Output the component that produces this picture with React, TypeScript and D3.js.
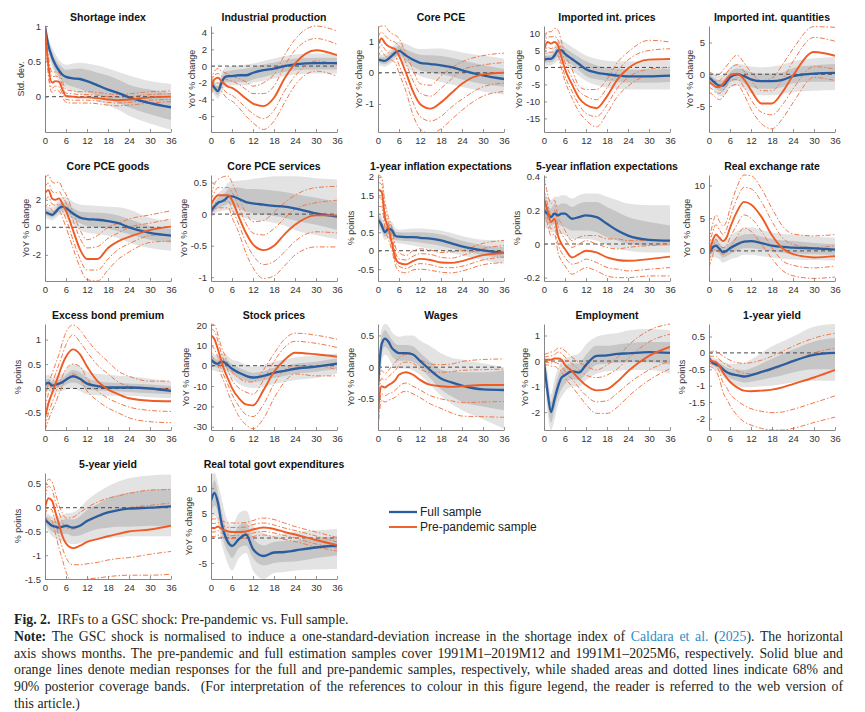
import { useEffect, useRef } from 'react';
import * as d3 from 'd3';

const horizons = [0, 1, 2, 3, 4, 5, 6, 8, 10, 12, 15, 18, 21, 24, 30, 36];
const xTicks = [0, 6, 12, 18, 24, 30, 36];

const titles = [
  'Shortage index', 'Industrial production', 'Core PCE', 'Imported int. prices', 'Imported int. quantities',
  'Core PCE goods', 'Core PCE services', '1-year inflation expectations', '5-year inflation expectations', 'Real exchange rate',
  'Excess bond premium', 'Stock prices', 'Wages', 'Employment', '1-year yield',
  '5-year yield', 'Real total govt expenditures',
];
const yc = 'YoY % change';
const pp = '% points';
const yLabels = [
  'Std. dev.', yc, yc, yc, yc,
  yc, yc, pp, pp, yc,
  pp, yc, yc, yc, pp,
  pp, yc,
];
const yDomains: [number, number][] = [
  [-0.5, 1], [-7.9, 4.8], [-1.9, 1.5], [-19, 12.2], [-9.1, 7.6],
  [-3.9, 3.8], [-1.06, 0.62], [-0.82, 2.05], [-0.22, 0.41], [-4.6, 11.6],
  [-0.85, 1.32], [-31.6, 20.5], [-0.99, 0.68], [-2.7, 1.45], [-2.35, 0.88],
  [-1.5, 0.73], [-8.2, 13],
];
const yTicks = [
  [0, 0.5, 1], [-6, -4, -2, 0, 2, 4], [-1, 0, 1], [-15, -10, -5, 0, 5, 10], [-5, 0, 5],
  [-2, 0, 2], [-1, -0.5, 0, 0.5], [-0.5, 0, 0.5, 1, 1.5, 2], [-0.2, 0, 0.2, 0.4], [0, 5, 10],
  [-0.5, 0, 0.5, 1], [-30, -20, -10, 0, 10, 20], [-0.5, 0, 0.5], [-2, -1, 0, 1], [-2, -1.5, -1, -0.5, 0, 0.5],
  [-1.5, -1, -0.5, 0, 0.5], [-5, 0, 5, 10],
];

// each sample: [median, lo68, hi68, lo90, hi90]
const shortageFull = [
  [1, 0.72, 0.56, 0.45, 0.37, 0.31, 0.28, 0.26, 0.25, 0.22, 0.16, 0.1, 0.05, -0.01, -0.09, -0.15],
  [1, 0.66, 0.48, 0.36, 0.28, 0.22, 0.18, 0.14, 0.11, 0.07, 0.02, -0.03, -0.09, -0.15, -0.25, -0.33],
  [1, 0.78, 0.64, 0.53, 0.46, 0.41, 0.38, 0.39, 0.4, 0.38, 0.34, 0.3, 0.24, 0.17, 0.1, 0.05],
  [1, 0.62, 0.42, 0.3, 0.21, 0.15, 0.12, 0.08, 0.04, 0, -0.06, -0.12, -0.19, -0.27, -0.38, -0.47],
  [1, 0.82, 0.7, 0.6, 0.52, 0.47, 0.45, 0.47, 0.48, 0.47, 0.44, 0.4, 0.35, 0.3, 0.22, 0.18],
];
const shortagePre = [
  [1, 0.42, 0.2, 0.22, 0.21, 0.1, 0.01, 0, -0.01, -0.01, -0.02, -0.04, -0.05, -0.04, -0.01, 0],
  [1, 0.35, 0.12, 0.15, 0.14, 0.04, -0.04, -0.05, -0.05, -0.05, -0.06, -0.08, -0.09, -0.08, -0.05, -0.04],
  [1, 0.5, 0.28, 0.29, 0.28, 0.16, 0.05, 0.04, 0.03, 0.03, 0.02, 0, -0.01, 0, 0.03, 0.04],
  [1, 0.28, 0.06, 0.09, 0.08, -0.01, -0.08, -0.09, -0.09, -0.09, -0.1, -0.12, -0.13, -0.12, -0.09, -0.07],
  [1, 0.56, 0.35, 0.35, 0.34, 0.22, 0.1, 0.08, 0.07, 0.07, 0.06, 0.04, 0.03, 0.04, 0.07, 0.08],
];
const ipFull = [
  [-2, -2.6, -3, -2, -1.3, -1.2, -1.2, -1.1, -1.1, -0.8, -0.5, -0.3, 0, 0.2, 0.35, 0.35],
  [-2.5, -3.1, -3.5, -2.7, -2, -1.9, -1.9, -1.9, -1.9, -1.6, -1.3, -1, -0.7, -0.5, -0.4, -0.4],
  [-1.5, -2.1, -2.5, -1.4, -0.7, -0.6, -0.5, -0.4, -0.3, -0.1, 0.2, 0.4, 0.7, 0.9, 1, 1],
  [-3, -3.5, -3.9, -3.1, -2.5, -2.4, -2.3, -2.3, -2.3, -2, -1.8, -1.5, -1.2, -1, -0.9, -0.9],
  [-1, -1.7, -2.1, -0.9, -0.2, -0.1, 0, 0.1, 0.2, 0.3, 0.6, 0.9, 1.2, 1.4, 1.5, 1.5],
];
const ipPre = [
  [-2.6, -1.6, -1.4, -1.8, -2.2, -2.5, -2.6, -3.2, -3.9, -4.5, -4.8, -3.8, -1.5, 0.3, 1.9, 1.3],
  [-3, -2.1, -2, -2.5, -3, -3.3, -3.5, -4.2, -5, -5.7, -6.3, -5.3, -3, -1.2, 0.6, 0.2],
  [-2.2, -1.1, -0.9, -1.2, -1.5, -1.7, -1.8, -2.2, -2.8, -3.3, -3.3, -2.4, 0, 1.9, 3.3, 2.6],
  [-3.4, -2.5, -2.5, -3, -3.6, -4, -4.2, -5, -6, -6.8, -7.6, -6.6, -4.4, -2.3, -0.6, -1.2],
  [-1.8, -0.6, -0.3, -0.6, -0.8, -1, -1.2, -1.5, -1.9, -2.4, -2, -1, 1.3, 3.2, 4.8, 4.2],
];
const pceFull = [
  [0.42, 0.4, 0.38, 0.45, 0.55, 0.65, 0.7, 0.55, 0.42, 0.32, 0.28, 0.24, 0.18, 0.08, -0.08, -0.2],
  [0.32, 0.3, 0.28, 0.33, 0.42, 0.52, 0.55, 0.38, 0.2, 0.08, 0, -0.05, -0.12, -0.22, -0.36, -0.45],
  [0.52, 0.5, 0.5, 0.58, 0.7, 0.8, 0.86, 0.75, 0.65, 0.58, 0.56, 0.54, 0.48, 0.4, 0.25, 0.12],
  [0.25, 0.22, 0.2, 0.25, 0.33, 0.42, 0.42, 0.2, 0.02, -0.1, -0.2, -0.3, -0.38, -0.46, -0.6, -0.7],
  [0.6, 0.58, 0.6, 0.7, 0.82, 0.94, 1, 0.92, 0.82, 0.76, 0.77, 0.78, 0.72, 0.65, 0.55, 0.45],
];
const pcePre = [
  [0.9, 1.1, 0.95, 0.85, 0.8, 0.75, 0.55, 0, -0.6, -1, -1.15, -0.95, -0.65, -0.35, -0.05, 0],
  [0.7, 0.9, 0.75, 0.65, 0.6, 0.52, 0.25, -0.3, -0.95, -1.4, -1.55, -1.4, -1.1, -0.85, -0.45, -0.33],
  [1.15, 1.3, 1.2, 1.08, 1.02, 0.97, 0.85, 0.3, -0.25, -0.65, -0.75, -0.5, -0.2, 0.1, 0.25, 0.33],
  [0.5, 0.7, 0.55, 0.45, 0.4, 0.3, 0, -0.6, -1.35, -1.8, -1.95, -1.8, -1.5, -1.2, -0.75, -0.6],
  [1.45, 1.5, 1.5, 1.35, 1.25, 1.2, 1.1, 0.6, 0.1, -0.35, -0.4, -0.1, 0.15, 0.35, 0.55, 0.63],
];
const impPriceFull = [
  [2.2, 2.5, 2.5, 3.5, 5, 5, 4, 2.5, 1, -0.5, -1.5, -2, -2.4, -2.6, -2.6, -2.4],
  [1.3, 1.5, 1.5, 2.2, 3.2, 3.2, 2.2, 0.8, -0.8, -2.5, -3.5, -4, -4.3, -4.5, -4.5, -4.3],
  [3.2, 3.5, 3.6, 4.8, 6.6, 6.6, 5.8, 4.3, 3, 1.8, 0.6, 0, -0.4, -0.6, -0.6, -0.4],
  [0.5, 0.6, 0.6, 1.2, 2, 2, 1, -0.8, -2.5, -4, -5.2, -6, -6.3, -6.5, -6.5, -6.5],
  [4, 4.5, 4.8, 6.2, 8, 8, 7.4, 6, 4.7, 3.5, 2.5, 2, 1.8, 1.8, 1.9, 2],
];
const impPricePre = [
  [5, 7.5, 7, 7.5, 6.5, 3, -0.5, -5, -9, -11, -12, -8.5, -3.5, -0.3, 2.3, 2.5],
  [3.5, 6, 5.5, 6, 5, 1, -2.5, -7, -11, -13.5, -14.5, -11, -6, -3, -0.5, 0],
  [6.5, 9, 9, 9.2, 8, 5, 1.5, -3, -7, -8.5, -9.5, -6, -1, 2.2, 5, 5.5],
  [2, 4.5, 4.5, 4.5, 3.5, -0.5, -4, -9, -13, -15.5, -17.5, -13.5, -8.5, -5.5, -2.5, -2.5],
  [8, 10.5, 10.5, 11.5, 11, 7.5, 4, -0.5, -5.5, -6.5, -6.5, -3.5, 1.5, 4.5, 8, 7.5],
];
const impQtyFull = [
  [-0.5, -1, -1.5, -1.8, -1.8, -1.2, -0.5, 0, -0.3, -0.8, -1.1, -1.1, -0.9, -0.3, 0.1, 0.2],
  [-1, -1.6, -2.2, -2.6, -2.7, -2.1, -1.3, -1, -1.4, -2, -2.3, -2.3, -2, -1.4, -1.2, -1.2],
  [0, -0.4, -0.8, -1, -0.9, -0.3, 0.3, 0.9, 0.7, 0.3, 0.1, 0.1, 0.3, 1, 1.4, 1.6],
  [-1.5, -2.2, -2.9, -3.4, -3.5, -2.9, -2.1, -1.8, -2.3, -3, -3.3, -3.3, -3.1, -2.8, -2.6, -2.5],
  [0.5, 0.2, -0.1, -0.2, -0.1, 0.5, 1.1, 1.6, 1.5, 1.2, 1.1, 1.2, 1.5, 2, 2.5, 2.7],
];
const impQtyPre = [
  [-1.2, -1.6, -2, -2, -1.5, -0.8, -0.2, 0.1, -0.8, -2.5, -4.6, -4.6, -2.8, -0.2, 3.5, 2.9],
  [-2, -2.4, -2.9, -3, -2.5, -1.8, -1, -0.8, -2, -4, -6, -6.4, -4.8, -2.3, 1.2, 0.8],
  [-0.5, -0.8, -1.1, -1, -0.5, 0.2, 0.8, 1.5, 0.5, -1, -2.6, -2.6, -0.8, 2, 5.8, 5.2],
  [-2.8, -3.2, -3.7, -4, -3.6, -2.8, -2, -1.6, -3.2, -5.5, -7.8, -8.6, -7, -4.5, -0.5, -1],
  [0.3, 0.1, -0.2, 0, 0.6, 1.3, 2, 3, 1.8, 0.3, -1, -0.6, 1.5, 4, 7.5, 7.4],
];
const goodsFull = [
  [1.1, 1, 0.9, 1.1, 1.4, 1.5, 1.4, 1, 0.7, 0.6, 0.55, 0.45, 0.3, 0, -0.4, -0.6],
  [0.9, 0.8, 0.7, 0.85, 1.1, 1.2, 1.1, 0.6, 0.3, 0.1, 0, -0.1, -0.3, -0.5, -0.9, -1.1],
  [1.35, 1.25, 1.15, 1.35, 1.7, 1.8, 1.8, 1.4, 1.15, 1.1, 1.05, 1, 0.85, 0.6, 0.1, -0.1],
  [0.7, 0.6, 0.5, 0.65, 0.85, 0.95, 0.8, 0.2, -0.2, -0.4, -0.5, -0.6, -0.8, -1.1, -1.5, -1.7],
  [1.6, 1.5, 1.45, 1.65, 2, 2.2, 2.2, 1.85, 1.65, 1.6, 1.55, 1.5, 1.45, 1.3, 0.7, 0.5],
];
const goodsPre = [
  [2.5, 2.7, 2.1, 2, 2.1, 1.7, 1.2, -0.2, -1.6, -2.3, -2.3, -1.5, -1, -0.7, -0.2, 0.05],
  [2, 2.2, 1.7, 1.6, 1.7, 1.2, 0.6, -0.9, -2.3, -3.1, -3.1, -2.3, -1.6, -1.2, -0.6, -0.5],
  [3, 3.2, 2.6, 2.5, 2.6, 2.2, 1.8, 0.5, -0.8, -1.5, -1.4, -0.8, -0.4, 0, 0.3, 0.6],
  [1.4, 1.7, 1.2, 1.1, 1.2, 0.7, 0, -1.5, -2.9, -3.8, -3.9, -3.1, -2.3, -1.8, -1.1, -1],
  [3.6, 3.8, 3.3, 3.2, 3.3, 2.8, 2.4, 1.1, -0.2, -0.9, -0.6, 0, 0.3, 0.6, 0.9, 1.2],
];
const servicesFull = [
  [0.05, 0.12, 0.18, 0.2, 0.23, 0.28, 0.28, 0.24, 0.19, 0.17, 0.15, 0.13, 0.12, 0.09, 0.01, -0.04],
  [0, 0.05, 0.1, 0.12, 0.14, 0.17, 0.15, 0.09, 0.04, 0.01, -0.01, -0.03, -0.06, -0.1, -0.17, -0.25],
  [0.1, 0.18, 0.26, 0.3, 0.34, 0.4, 0.42, 0.42, 0.4, 0.4, 0.39, 0.37, 0.35, 0.32, 0.26, 0.2],
  [-0.05, 0, 0.04, 0.05, 0.06, 0.07, 0.04, -0.03, -0.07, -0.09, -0.11, -0.14, -0.18, -0.25, -0.33, -0.4],
  [0.15, 0.25, 0.33, 0.38, 0.43, 0.5, 0.52, 0.53, 0.54, 0.56, 0.58, 0.6, 0.6, 0.6, 0.57, 0.55],
];
const servicesPre = [
  [0.15, 0.25, 0.3, 0.3, 0.3, 0.3, 0.22, -0.05, -0.3, -0.48, -0.57, -0.5, -0.32, -0.17, -0.02, -0.02],
  [0.08, 0.17, 0.2, 0.2, 0.2, 0.2, 0.08, -0.17, -0.45, -0.65, -0.8, -0.75, -0.6, -0.43, -0.28, -0.3],
  [0.23, 0.35, 0.42, 0.42, 0.42, 0.42, 0.35, 0.1, -0.15, -0.3, -0.33, -0.23, -0.07, 0.08, 0.18, 0.22],
  [0, 0.08, 0.1, 0.1, 0.1, 0.1, -0.05, -0.3, -0.62, -0.85, -1.02, -0.98, -0.82, -0.65, -0.52, -0.52],
  [0.3, 0.48, 0.55, 0.58, 0.6, 0.6, 0.5, 0.25, 0.02, -0.12, -0.1, 0.03, 0.18, 0.3, 0.42, 0.44],
];
const infl1Full = [
  [0.85, 0.7, 0.5, 0.6, 0.55, 0.4, 0.38, 0.37, 0.37, 0.35, 0.33, 0.28, 0.2, 0.12, 0.01, -0.06],
  [0.7, 0.57, 0.38, 0.47, 0.42, 0.3, 0.28, 0.26, 0.25, 0.22, 0.18, 0.13, 0.06, 0, -0.12, -0.2],
  [1, 0.83, 0.62, 0.73, 0.68, 0.52, 0.5, 0.49, 0.5, 0.5, 0.48, 0.44, 0.36, 0.27, 0.15, 0.1],
  [0.6, 0.48, 0.28, 0.36, 0.32, 0.22, 0.2, 0.17, 0.14, 0.1, 0.05, 0, -0.06, -0.12, -0.25, -0.35],
  [1.1, 0.93, 0.72, 0.82, 0.78, 0.6, 0.57, 0.58, 0.6, 0.6, 0.58, 0.55, 0.48, 0.4, 0.3, 0.28],
];
const infl1Pre = [
  [1.65, 1.6, 0.9, 0.6, 0.2, -0.2, -0.33, -0.37, -0.28, -0.22, -0.25, -0.32, -0.33, -0.28, -0.12, -0.06],
  [1.45, 1.4, 0.75, 0.45, 0.1, -0.3, -0.42, -0.48, -0.4, -0.35, -0.38, -0.45, -0.46, -0.42, -0.25, -0.17],
  [1.85, 1.8, 1.1, 0.75, 0.4, -0.05, -0.22, -0.25, -0.15, -0.08, -0.1, -0.18, -0.2, -0.13, 0.06, 0.14],
  [1.2, 1.2, 0.6, 0.3, 0, -0.4, -0.55, -0.6, -0.52, -0.5, -0.53, -0.58, -0.6, -0.55, -0.38, -0.32],
  [2.05, 2, 1.3, 0.9, 0.6, 0.1, -0.05, -0.13, 0, 0.05, 0.02, -0.05, -0.03, 0, 0.2, 0.28],
];
const infl5Full = [
  [0.2, 0.18, 0.16, 0.18, 0.17, 0.18, 0.18, 0.15, 0.16, 0.17, 0.16, 0.12, 0.08, 0.05, 0.025, 0.02],
  [0.14, 0.13, 0.11, 0.12, 0.11, 0.11, 0.1, 0.08, 0.08, 0.08, 0.07, 0.04, 0.02, 0, -0.01, -0.01],
  [0.25, 0.23, 0.21, 0.24, 0.23, 0.24, 0.24, 0.22, 0.24, 0.25, 0.25, 0.22, 0.19, 0.16, 0.13, 0.11],
  [0.1, 0.09, 0.07, 0.07, 0.06, 0.06, 0.05, 0.03, 0.03, 0.03, 0.02, -0.01, -0.03, -0.04, -0.05, -0.05],
  [0.3, 0.28, 0.26, 0.28, 0.28, 0.29, 0.29, 0.27, 0.29, 0.3, 0.3, 0.28, 0.26, 0.24, 0.23, 0.23],
];
const infl5Pre = [
  [0.27, 0.2, 0.13, 0.15, 0.05, 0, -0.03, -0.08, -0.06, -0.04, -0.05, -0.08, -0.095, -0.1, -0.09, -0.075],
  [0.23, 0.16, 0.09, 0.1, 0, -0.05, -0.08, -0.12, -0.11, -0.09, -0.11, -0.14, -0.15, -0.16, -0.15, -0.14],
  [0.32, 0.24, 0.17, 0.2, 0.11, 0.06, 0.03, -0.02, 0, 0.02, 0, -0.02, -0.03, -0.02, -0.01, 0],
  [0.2, 0.12, 0.05, 0.06, -0.05, -0.1, -0.13, -0.18, -0.16, -0.14, -0.16, -0.19, -0.2, -0.2, -0.19, -0.19],
  [0.4, 0.3, 0.24, 0.26, 0.16, 0.12, 0.08, 0.02, 0.04, 0.05, 0.05, 0.03, 0.03, 0.02, 0.02, 0.02],
];
const rerFull = [
  [-0.3, 0.5, 0.8, 0.3, -0.2, 0, 0.4, 1, 1.4, 1.5, 1.2, 0.8, 0.6, 0.5, 0.4, 0.2],
  [-0.9, -0.3, -0.1, -0.5, -1, -0.8, -0.5, 0, 0.4, 0.4, 0.2, -0.1, -0.3, -0.4, -0.5, -0.6],
  [0.4, 1.3, 1.7, 1.1, 0.6, 0.8, 1.3, 2.1, 2.5, 2.6, 2.2, 1.8, 1.6, 1.5, 1.2, 1],
  [-1.5, -1, -1, -1.3, -1.8, -1.6, -1.3, -1, -0.6, -0.6, -0.8, -1, -1.2, -1.3, -1.4, -1.5],
  [1, 2, 2.5, 1.9, 1.3, 1.6, 2.2, 3, 3.5, 3.6, 3.2, 2.8, 2.6, 2.5, 2.2, 2],
];
const rerPre = [
  [-0.5, 1.5, 2.5, 2, 1.5, 2, 3.5, 6, 7.5, 7.1, 5.2, 2.4, 0.4, -0.5, -1, -0.8],
  [-1.5, 0.3, 1.8, 0.9, 0.5, 0.8, 2, 4, 5.5, 5, 3, 0.5, -1.5, -2.2, -2.6, -2.3],
  [0.5, 2.8, 4, 3.2, 2.5, 3.3, 5, 8, 9.7, 9.5, 7.5, 4.5, 2, 1, 0.5, 0.8],
  [-2.5, -0.8, 0.8, -0.2, -0.5, -0.3, 0.5, 2.2, 3.5, 3, 1, -1.2, -3, -3.8, -4.2, -4],
  [1.5, 4, 5.5, 4.5, 3.8, 4.5, 6.5, 9.8, 11.6, 11.5, 9.5, 6.5, 3.8, 2.6, 2.3, 2.5],
];
const ebpFull = [
  [0.08, 0.12, 0.06, 0.08, 0.1, 0.13, 0.18, 0.25, 0.2, 0.1, 0.05, 0.02, 0.02, 0.02, 0, -0.05],
  [0, 0.04, -0.02, 0, 0.02, 0.04, 0.08, 0.12, 0.08, -0.02, -0.04, -0.05, -0.06, -0.07, -0.1, -0.12],
  [0.17, 0.2, 0.14, 0.16, 0.18, 0.22, 0.28, 0.38, 0.33, 0.22, 0.15, 0.12, 0.11, 0.1, 0.08, 0.05],
  [-0.1, -0.05, -0.1, -0.08, -0.07, -0.05, -0.02, 0, -0.05, -0.12, -0.14, -0.15, -0.15, -0.15, -0.18, -0.2],
  [0.25, 0.28, 0.22, 0.24, 0.27, 0.31, 0.38, 0.5, 0.45, 0.35, 0.3, 0.28, 0.26, 0.25, 0.2, 0.15],
];
const ebpPre = [
  [-0.6, -0.3, -0.1, 0.1, 0.3, 0.5, 0.65, 0.8, 0.7, 0.45, 0.15, -0.02, -0.12, -0.2, -0.25, -0.26],
  [-0.8, -0.5, -0.3, -0.1, 0.1, 0.25, 0.4, 0.5, 0.45, 0.2, -0.05, -0.2, -0.3, -0.38, -0.45, -0.47],
  [-0.4, -0.1, 0.1, 0.3, 0.5, 0.7, 0.9, 1.1, 0.95, 0.75, 0.48, 0.3, 0.13, 0.05, 0, 0],
  [-0.85, -0.65, -0.45, -0.3, -0.1, 0.05, 0.2, 0.3, 0.2, -0.05, -0.25, -0.4, -0.5, -0.6, -0.68, -0.7],
  [-0.2, 0.1, 0.3, 0.5, 0.7, 0.95, 1.15, 1.3, 1.2, 1, 0.75, 0.55, 0.35, 0.25, 0.15, 0.15],
];
const stockFull = [
  [3, 1.5, 1, 2, 1.5, 0, -1.5, -3.5, -5, -5.8, -5, -3.5, -2.5, -1.5, -0.5, 1],
  [0.5, -0.5, -1, -0.2, -0.5, -2.2, -3.8, -6, -7.5, -8, -7.3, -6, -5, -4, -3, -1.5],
  [5.5, 3.5, 3, 4.2, 3.5, 2.2, 0.8, -1, -2.5, -3.5, -2.7, -1, 0, 1, 2, 3.5],
  [-2, -2.5, -3, -2.5, -3, -4.5, -6, -9, -10.5, -11, -10.5, -9, -8, -7, -6, -4],
  [8, 5.5, 5, 6.5, 6, 4.5, 3, 2, 0.5, -0.5, 0.5, 2, 3, 4, 5, 6],
];
const stockPre = [
  [15, 13, 8, 2, -3, -7, -11, -16, -19, -19.5, -12, -3, 2.8, 6.4, 5.6, 4.4],
  [10, 8, 4, -2, -6, -10, -14, -20, -24, -25, -19, -9, -2, 0, 0, -2],
  [18, 17, 12, 6, 1, -3, -7, -11, -13, -14, -7, 2, 9, 12, 11, 9],
  [5, 3, 0, -5, -9, -14, -18, -25, -29, -31, -26, -16, -8, -4, -5, -5],
  [20.5, 20, 15, 9, 5, 0, -3, -6, -8, -8, -2, 6, 13, 16, 15, 13],
];
const wagesFull = [
  [-0.3, 0.35, 0.45, 0.4, 0.3, 0.25, 0.22, 0.22, 0.2, 0.1, -0.05, -0.18, -0.24, -0.29, -0.35, -0.36],
  [-0.45, 0.2, 0.32, 0.27, 0.17, 0.12, 0.1, 0.1, 0.08, 0, -0.18, -0.35, -0.46, -0.55, -0.62, -0.68],
  [-0.15, 0.48, 0.58, 0.52, 0.43, 0.37, 0.35, 0.35, 0.33, 0.23, 0.08, -0.04, -0.07, -0.08, -0.08, -0.05],
  [-0.6, 0.05, 0.2, 0.15, 0.05, 0, -0.02, -0.02, -0.05, -0.12, -0.28, -0.45, -0.58, -0.68, -0.82, -0.97],
  [0, 0.6, 0.68, 0.65, 0.55, 0.5, 0.48, 0.5, 0.5, 0.42, 0.33, 0.22, 0.15, 0.12, 0.06, 0],
];
const wagesPre = [
  [-0.7, -0.3, -0.32, -0.28, -0.25, -0.2, -0.12, -0.08, -0.12, -0.2, -0.28, -0.3, -0.31, -0.3, -0.28, -0.28],
  [-0.85, -0.42, -0.45, -0.42, -0.4, -0.36, -0.3, -0.25, -0.3, -0.36, -0.45, -0.5, -0.53, -0.56, -0.55, -0.54],
  [-0.55, -0.18, -0.2, -0.15, -0.1, -0.05, 0.03, 0.08, 0.06, -0.03, -0.08, -0.08, -0.07, -0.05, -0.04, -0.03],
  [-0.99, -0.52, -0.55, -0.52, -0.5, -0.47, -0.42, -0.38, -0.42, -0.48, -0.58, -0.65, -0.72, -0.77, -0.78, -0.79],
  [-0.4, -0.05, -0.1, -0.05, 0.02, 0.08, 0.15, 0.2, 0.2, 0.12, 0.05, 0.04, 0.05, 0.09, 0.12, 0.13],
];
const employFull = [
  [0, -1.2, -2, -1.5, -1, -0.65, -0.55, -0.4, -0.45, -0.15, 0.2, 0.22, 0.28, 0.3, 0.35, 0.32],
  [-0.05, -1.6, -2.4, -1.9, -1.4, -1.1, -0.9, -0.7, -0.75, -0.5, -0.15, -0.1, -0.07, -0.05, -0.05, -0.15],
  [0.05, -0.8, -1.6, -1.1, -0.6, -0.3, -0.2, -0.1, -0.1, 0.25, 0.6, 0.6, 0.65, 0.7, 0.75, 0.75],
  [-0.1, -2, -2.7, -2.3, -1.7, -1.4, -1.2, -1, -1, -0.75, -0.5, -0.4, -0.38, -0.35, -0.35, -0.5],
  [0.1, -0.4, -1.3, -0.7, -0.3, 0, 0.1, 0.2, 0.3, 0.65, 0.95, 1.05, 1.1, 1.2, 1.25, 1.2],
];
const employPre = [
  [0.05, 0.05, 0.05, 0.1, 0.1, 0.05, -0.15, -0.4, -0.7, -0.95, -1.15, -1.1, -0.8, -0.4, 0.2, 0.55],
  [-0.05, -0.05, -0.08, -0.05, -0.1, -0.2, -0.4, -0.7, -1.05, -1.35, -1.6, -1.55, -1.25, -0.9, -0.35, 0],
  [0.15, 0.18, 0.2, 0.25, 0.35, 0.3, 0.15, -0.1, -0.35, -0.55, -0.65, -0.55, -0.3, 0.1, 0.75, 1.05],
  [-0.15, -0.15, -0.2, -0.2, -0.3, -0.4, -0.65, -1, -1.35, -1.7, -2.05, -2.05, -1.8, -1.4, -0.75, -0.3],
  [0.25, 0.3, 0.35, 0.4, 0.5, 0.5, 0.4, 0.15, -0.05, -0.2, -0.35, -0.15, 0.15, 0.6, 1.2, 1.45],
];
const yield1Full = [
  [-0.15, -0.3, -0.35, -0.4, -0.5, -0.58, -0.63, -0.68, -0.72, -0.68, -0.58, -0.48, -0.37, -0.25, -0.06, 0],
  [-0.22, -0.38, -0.44, -0.5, -0.62, -0.72, -0.78, -0.85, -0.9, -0.88, -0.82, -0.75, -0.68, -0.6, -0.5, -0.5],
  [-0.08, -0.22, -0.27, -0.3, -0.38, -0.44, -0.48, -0.5, -0.53, -0.47, -0.33, -0.18, -0.03, 0.1, 0.35, 0.45],
  [-0.3, -0.45, -0.52, -0.6, -0.72, -0.83, -0.9, -1, -1.05, -1.05, -1.02, -1, -0.95, -0.9, -0.85, -0.85],
  [0, -0.15, -0.18, -0.2, -0.26, -0.3, -0.33, -0.33, -0.3, -0.2, 0, 0.2, 0.35, 0.5, 0.8, 0.88],
];
const yield1Pre = [
  [-0.2, -0.25, -0.28, -0.4, -0.6, -0.75, -0.88, -1.05, -1.15, -1.17, -1.15, -1.12, -1.05, -0.95, -0.75, -0.52],
  [-0.3, -0.35, -0.4, -0.58, -0.9, -1.05, -1.25, -1.45, -1.6, -1.7, -1.78, -1.82, -1.8, -1.72, -1.52, -1.31],
  [-0.1, -0.1, -0.1, -0.2, -0.3, -0.36, -0.42, -0.55, -0.62, -0.64, -0.6, -0.52, -0.4, -0.26, 0, 0.14],
  [-0.4, -0.45, -0.55, -0.8, -1.2, -1.4, -1.6, -1.9, -2.1, -2.2, -2.3, -2.35, -2.35, -2.3, -2.12, -1.96],
  [0, 0.05, 0.05, -0.02, -0.1, -0.17, -0.22, -0.3, -0.32, -0.3, -0.22, -0.1, 0.05, 0.2, 0.45, 0.6],
];
const yield5Full = [
  [-0.25, -0.32, -0.38, -0.4, -0.42, -0.4, -0.38, -0.42, -0.38, -0.28, -0.18, -0.1, -0.05, -0.02, 0, 0.03],
  [-0.32, -0.42, -0.5, -0.53, -0.55, -0.55, -0.55, -0.6, -0.58, -0.52, -0.45, -0.42, -0.4, -0.4, -0.38, -0.38],
  [-0.18, -0.22, -0.27, -0.28, -0.29, -0.27, -0.24, -0.25, -0.18, -0.05, 0.08, 0.2, 0.27, 0.32, 0.38, 0.4],
  [-0.38, -0.5, -0.6, -0.65, -0.7, -0.7, -0.72, -0.77, -0.75, -0.7, -0.65, -0.63, -0.62, -0.6, -0.6, -0.6],
  [-0.1, -0.14, -0.18, -0.18, -0.18, -0.15, -0.12, -0.1, 0, 0.15, 0.32, 0.45, 0.55, 0.62, 0.68, 0.7],
];
const yield5Pre = [
  [0, 0.2, 0.15, -0.1, -0.35, -0.6, -0.75, -0.85, -0.8, -0.72, -0.66, -0.6, -0.55, -0.5, -0.46, -0.38],
  [-0.15, 0, -0.05, -0.32, -0.6, -0.85, -1.05, -1.2, -1.2, -1.18, -1.15, -1.1, -1.07, -1.05, -0.98, -0.92],
  [0.2, 0.45, 0.38, 0.12, -0.1, -0.3, -0.42, -0.45, -0.38, -0.3, -0.2, -0.1, -0.05, 0, 0.05, 0.1],
  [-0.3, -0.2, -0.28, -0.55, -0.85, -1.1, -1.35, -1.55, -1.55, -1.5, -1.48, -1.45, -1.43, -1.42, -1.42, -1.4],
  [0.35, 0.6, 0.55, 0.3, 0.05, -0.12, -0.22, -0.2, -0.1, 0, 0.12, 0.2, 0.25, 0.3, 0.37, 0.38],
];
const govtFull = [
  [7.5, 9, 7, 3, 0.5, -1, -1.6, -0.2, 0.7, -2.2, -3.6, -2.9, -2.8, -2.5, -1.9, -1.5],
  [5, 6.5, 5, 1, -1.5, -3, -4, -2, -1.5, -4, -5.5, -5, -4.8, -4.7, -4, -3.5],
  [9.5, 11.5, 9, 5.5, 2.5, 1, 0.5, 2.5, 3, 0, -1.5, -0.8, -0.6, -0.5, 0, 0.3],
  [2.5, 4.5, 3, -1, -3.5, -5.5, -6.5, -4, -3, -6.5, -8.2, -7, -6.8, -6.5, -6.3, -6.2],
  [12.5, 13, 11, 8, 5, 3, 2.5, 5, 5.5, 2.5, 1, 0.5, 0.8, 1.2, 1.5, 1.8],
];
const govtPre = [
  [2, 2, 2.3, 1.8, 1.5, 1.3, 1.2, 1.2, 1.3, 1.7, 2.1, 1.8, 1.2, 0.7, -0.4, -1.4],
  [1.2, 1.2, 1.5, 1, 0.8, 0.6, 0.5, 0.5, 0.6, 1, 1.3, 1, 0.5, 0, -1.2, -2],
  [3, 2.9, 3.1, 2.6, 2.3, 2.1, 2.1, 2.1, 2.2, 2.7, 3, 2.6, 2, 1.5, 0.4, -0.8],
  [0.3, 0.3, 0.6, 0.2, 0, -0.1, -0.1, -0.1, 0, 0.3, 0.6, 0.2, -0.3, -0.7, -1.8, -2.6],
  [3.8, 3.8, 4, 3.5, 3.2, 3, 3, 3, 3.1, 3.5, 4, 3.7, 3, 2.3, 1.2, 0.1],
];

const fullSamples = [
  shortageFull, ipFull, pceFull, impPriceFull, impQtyFull,
  goodsFull, servicesFull, infl1Full, infl5Full, rerFull,
  ebpFull, stockFull, wagesFull, employFull, yield1Full,
  yield5Full, govtFull,
];
const preSamples = [
  shortagePre, ipPre, pcePre, impPricePre, impQtyPre,
  goodsPre, servicesPre, infl1Pre, infl5Pre, rerPre,
  ebpPre, stockPre, wagesPre, employPre, yield1Pre,
  yield5Pre, govtPre,
];

const legendLabels = ['Full sample', 'Pre-pandemic sample'];

type Seg = { t: string; b?: boolean; link?: boolean };
const captionLines: Seg[][] = [
  [{ t: 'Fig. 2.', b: true }, { t: '  IRFs to a GSC shock: Pre-pandemic vs. Full sample.' }],
  [{ t: 'Note:', b: true }, { t: ' The GSC shock is normalised to induce a one-standard-deviation increase in the shortage index of ' }, { t: 'Caldara et al.', link: true }, { t: ' (' }, { t: '2025', link: true }, { t: '). The horizontal' }],
  [{ t: 'axis shows months. The pre-pandemic and full estimation samples cover 1991M1–2019M12 and 1991M1–2025M6, respectively. Solid blue and' }],
  [{ t: 'orange lines denote median responses for the full and pre-pandemic samples, respectively, while shaded areas and dotted lines indicate 68% and' }],
  [{ t: '90% posterior coverage bands.  (For interpretation of the references to colour in this figure legend, the reader is referred to the web version of' }],
  [{ t: 'this article.)' }],
];

const W = 865;
const H = 712;
const colLeft = [45, 211, 378, 544, 709];
const rowTop = [26, 175, 324, 473];
const plotW = 126;
const plotH = 106;
const BLUE = '#2a5d9f';
const ORANGE = '#ef5b25';
const DASH = '#f07a4c';
const SANS = '"Liberation Sans", Arial, Helvetica, sans-serif';
const SERIF = '"Liberation Serif", "Times New Roman", serif';

export default function App() {
  const svgRef = useRef<SVGSVGElement>(null);

  useEffect(() => {
    if (!svgRef.current) return;
    const svg = d3.select(svgRef.current);
    svg.selectAll('*').remove();
    svg.append('rect').attr('width', W).attr('height', H).attr('fill', '#fff');

    titles.forEach((title, i) => {
      const left = colLeft[i % 5];
      const top = rowTop[Math.floor(i / 5)];
      const g = svg.append('g').attr('transform', `translate(${left},${top})`);

      const x = d3.scaleLinear().domain([0, 36]).range([0, plotW]);
      const y = d3.scaleLinear().domain(yDomains[i]).range([plotH, 0]);

      const clipId = `clip-${i}`;
      g.append('clipPath').attr('id', clipId)
        .append('rect').attr('x', 0).attr('y', -1).attr('width', plotW).attr('height', plotH + 2);
      const body = g.append('g').attr('clip-path', `url(#${clipId})`);

      const band = (lo: number[], hi: number[]) =>
        d3.area<number>()
          .x((h) => x(h))
          .y0((_, k) => y(lo[k]))
          .y1((_, k) => y(hi[k]))
          .curve(d3.curveMonotoneX)(horizons);
      const line = (v: number[]) =>
        d3.line<number>()
          .x((h) => x(h))
          .y((_, k) => y(v[k]))
          .curve(d3.curveMonotoneX)(horizons);

      const [fMed, fLo68, fHi68, fLo90, fHi90] = fullSamples[i];
      const [pMed, pLo68, pHi68, pLo90, pHi90] = preSamples[i];

      body.append('path').attr('d', band(fLo90, fHi90)).attr('fill', '#e3e3e3');
      body.append('path').attr('d', band(fLo68, fHi68)).attr('fill', '#c6c6c6');

      body.append('line')
        .attr('x1', 0).attr('x2', plotW)
        .attr('y1', y(0)).attr('y2', y(0))
        .attr('stroke', '#4a4a4a').attr('stroke-width', 1)
        .attr('stroke-dasharray', '4,3');

      [pLo90, pLo68, pHi68, pHi90].forEach((s) => {
        body.append('path').attr('d', line(s))
          .attr('fill', 'none').attr('stroke', DASH).attr('stroke-width', 1)
          .attr('stroke-dasharray', '5,2,1.5,2');
      });

      body.append('path').attr('d', line(fMed))
        .attr('fill', 'none').attr('stroke', BLUE).attr('stroke-width', 2.3);
      body.append('path').attr('d', line(pMed))
        .attr('fill', 'none').attr('stroke', ORANGE).attr('stroke-width', 1.9);

      const yAxis = g.append('g')
        .call(d3.axisLeft(y).tickValues(yTicks[i]).tickSizeInner(-3).tickSizeOuter(0).tickPadding(4)
          .tickFormat((d) => `${d}`));
      const xAxis = g.append('g')
        .attr('transform', `translate(0,${plotH})`)
        .call(d3.axisBottom(x).tickValues(xTicks).tickSizeInner(-3).tickSizeOuter(0).tickPadding(5)
          .tickFormat((d) => `${d}`));

      [yAxis, xAxis].forEach((a) => {
        a.select('.domain').attr('stroke', '#7a7a7a').attr('stroke-width', 0.9);
        a.selectAll('.tick line').attr('stroke', '#7a7a7a').attr('stroke-width', 0.8);
        a.selectAll('.tick text')
          .attr('fill', '#333').style('font-family', SANS).style('font-size', '9.5px');
      });

      const bb = (yAxis.node() as SVGGElement).getBBox();
      g.append('text')
        .attr('transform', `translate(${bb.x - 4},${plotH / 2}) rotate(-90)`)
        .attr('text-anchor', 'middle')
        .attr('fill', '#333')
        .style('font-family', SANS).style('font-size', '9px')
        .text(yLabels[i]);

      g.append('text')
        .attr('x', plotW / 2).attr('y', -5)
        .attr('text-anchor', 'middle')
        .attr('fill', '#111')
        .style('font-family', SANS).style('font-size', '10.5px').style('font-weight', 'bold')
        .text(title);
    });

    // legend
    const lg = svg.append('g').attr('transform', 'translate(389,512)');
    [BLUE, ORANGE].forEach((c, k) => {
      lg.append('line')
        .attr('x1', 0).attr('x2', 28).attr('y1', k * 15).attr('y2', k * 15)
        .attr('stroke', c).attr('stroke-width', k === 0 ? 2.3 : 1.9);
      lg.append('text')
        .attr('x', 31).attr('y', k * 15).attr('dy', '0.35em')
        .attr('fill', '#222')
        .style('font-family', SANS).style('font-size', '12px')
        .text(legendLabels[k]);
    });

    // caption, justified lines in the middle
    const capLeft = 14;
    const capWidth = 829;
    captionLines.forEach((segs, li) => {
      const t = svg.append('text')
        .attr('x', capLeft).attr('y', 624 + li * 16.8)
        .attr('fill', '#231f20')
        .style('font-family', SERIF).style('font-size', '13.8px')
        .style('white-space', 'pre');
      segs.forEach((s) => {
        t.append('tspan')
          .attr('font-weight', s.b ? 'bold' : 'normal')
          .attr('fill', s.link ? '#2b8cc4' : '#231f20')
          .text(s.t);
      });
      if (li >= 1 && li <= 4) {
        const node = t.node() as SVGTextElement;
        const len = node.getComputedTextLength();
        const spaces = segs.map((s) => s.t).join('').split(' ').length - 1;
        if (spaces > 0) t.attr('word-spacing', (capWidth - len) / spaces);
      }
    });
  }, []);

  return (
    <svg
      ref={svgRef}
      width={W}
      height={H}
      style={{ position: 'absolute', left: 0, top: 0 }}
    />
  );
}
